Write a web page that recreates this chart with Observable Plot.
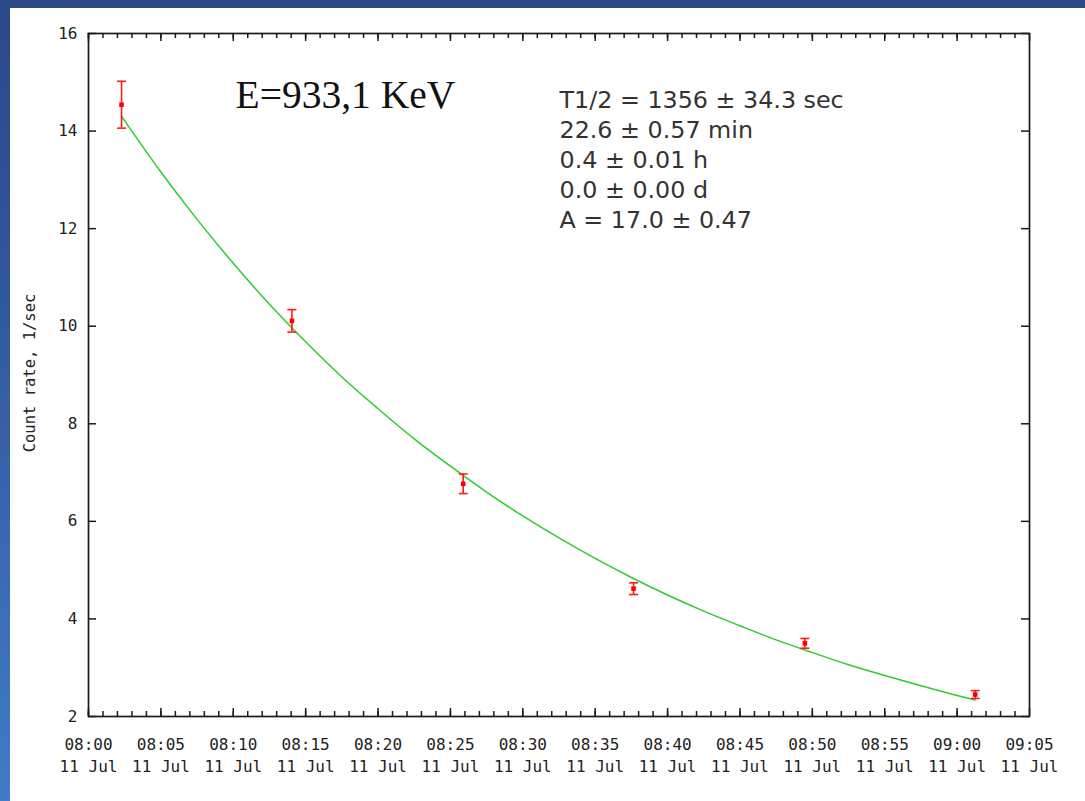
<!DOCTYPE html>
<html>
<head>
<meta charset="utf-8">
<script src="https://cdn.jsdelivr.net/npm/d3@7"></script>
<script src="https://cdn.jsdelivr.net/npm/@observablehq/plot@0.6"></script>
<style>
  html, body { margin: 0; padding: 0; }
  body { width: 1085px; height: 801px; position: relative; overflow: hidden;
         background: linear-gradient(180deg, #2b4889 0%, #33589f 40%, #3f7cc6 100%); }
  #panel { position: absolute; left: 10px; top: 8px; width: 1075px; height: 793px; background: #ffffff; }
  #chart { position: absolute; left: 0; top: 0; }
</style>
</head>
<body>
<div id="panel"></div>
<div id="chart"></div>
<script>
// ---- data ----
const day = "11 Jul";
const measTimes = ["08:02:17", "08:14:03", "08:25:53", "08:37:39", "08:49:29", "09:01:15"];
const measRate  = [14.54, 10.11, 6.77, 4.62, 3.50, 2.45];
const measErr   = [0.48, 0.23, 0.20, 0.12, 0.10, 0.08];

const fitTimes = ["08:02:17", "08:05", "08:07:30", "08:10", "08:12:30", "08:15", "08:17:30", "08:20",
                  "08:22:30", "08:25", "08:27:30", "08:30", "08:32:30", "08:35", "08:37:30", "08:40",
                  "08:42:30", "08:45", "08:47:30", "08:50", "08:52:30", "08:55", "08:57:30", "09:00", "09:01:15"];
const fitRate  = [14.30, 13.16, 12.19, 11.29, 10.45, 9.68, 8.96, 8.31,
                  7.69, 7.13, 6.60, 6.11, 5.66, 5.24, 4.85, 4.49,
                  4.16, 3.86, 3.57, 3.31, 3.06, 2.84, 2.63, 2.43, 2.34];

const xTickLabels = ["08:00","08:05","08:10","08:15","08:20","08:25","08:30","08:35",
                     "08:40","08:45","08:50","08:55","09:00","09:05"];
const yTickValues = [2, 4, 6, 8, 10, 12, 14, 16];

const titleText = "E=933,1 KeV";
const statsLines = ["T1/2 = 1356 \u00b1 34.3 sec", "22.6 \u00b1 0.57 min", "0.4 \u00b1 0.01 h",
                    "0.0 \u00b1 0.00 d", "A = 17.0 \u00b1 0.47"];
const yLabel = "Count rate, 1/sec";

// ---- helpers ----
const toDate = (s) => {
  const [h, m, sec] = s.split(":").map(Number);
  return new Date(Date.UTC(2011, 6, 11, h, m, sec || 0));
};
const meas = measTimes.map((t, i) => ({t: toDate(t), v: measRate[i], e: measErr[i]}));
const fit = fitTimes.map((t, i) => ({t: toDate(t), v: fitRate[i]}));
const majorTicks = xTickLabels.map(toDate);
const minorTicks = d3.utcMinute.range(majorTicks[0], majorTicks[majorTicks.length - 1]);
const xMin = majorTicks[0], xMax = majorTicks[majorTicks.length - 1];
const yMin = 2, yMax = 16;

const W = 1085, H = 801;
const mL = 88, mR = 56, mT = 33, mB = 85;
const innerW = W - mL - mR, innerH = H - mT - mB;
const mono = "'DejaVu Sans Mono', 'Liberation Mono', monospace";
const axisColor = "#1a1a1a";

// tick lengths (pixels) converted to data units
const yPerPx = (yMax - yMin) / innerH;
const msPerPx = (xMax - xMin) / innerW;
const minorLenY = 5 * yPerPx, majorLenY = 8 * yPerPx;
const majorLenX = 8 * msPerPx;

const capSymbol = {draw(ctx, size) { const w = Math.sqrt(size / Math.PI); ctx.moveTo(-w, 0); ctx.lineTo(w, 0); }};
const tickStyle = {stroke: axisColor, strokeWidth: 1.5};

const chart = Plot.plot({
  width: W, height: H,
  marginLeft: mL, marginRight: mR, marginTop: mT, marginBottom: mB,
  style: {background: "transparent", overflow: "visible"},
  x: {type: "utc", domain: [xMin, xMax], axis: null},
  y: {domain: [yMin, yMax], axis: null},
  marks: [
    // fit curve
    Plot.line(fit, {x: "t", y: "v", stroke: "#2ecc2e", strokeWidth: 1.5, curve: "monotone-x"}),
    // error bars
    Plot.ruleX(meas, {x: "t", y1: d => d.v - d.e, y2: d => d.v + d.e, stroke: "#ff1a1a", strokeWidth: 1.6}),
    Plot.dot(meas, {x: "t", y: d => d.v + d.e, symbol: capSymbol, r: 4.5, stroke: "#ff1a1a", strokeWidth: 1.6, fill: "none"}),
    Plot.dot(meas, {x: "t", y: d => d.v - d.e, symbol: capSymbol, r: 4.5, stroke: "#ff1a1a", strokeWidth: 1.6, fill: "none"}),
    Plot.dot(meas, {x: "t", y: "v", symbol: "square", r: 2.6, fill: "#ff0000", stroke: "none"}),
    // inward ticks, bottom and top
    Plot.ruleX(minorTicks, {x: d => d, y1: yMin, y2: yMin + minorLenY, ...tickStyle}),
    Plot.ruleX(minorTicks, {x: d => d, y1: yMax, y2: yMax - minorLenY, ...tickStyle}),
    Plot.ruleX(majorTicks, {x: d => d, y1: yMin, y2: yMin + majorLenY, ...tickStyle}),
    Plot.ruleX(majorTicks, {x: d => d, y1: yMax, y2: yMax - majorLenY, ...tickStyle}),
    // inward ticks, left and right
    Plot.ruleY(yTickValues, {y: d => d, x1: xMin, x2: new Date(+xMin + majorLenX), ...tickStyle}),
    Plot.ruleY(yTickValues, {y: d => d, x1: xMax, x2: new Date(+xMax - majorLenX), ...tickStyle}),
    Plot.frame({stroke: axisColor, strokeWidth: 1.7}),
    // x tick labels (two lines)
    Plot.text(majorTicks, {x: d => d, text: (d, i) => xTickLabels[i] + "\n" + day,
      frameAnchor: "bottom", lineAnchor: "top", dy: 17.5, lineHeight: 1.375,
      fontSize: 16, fontFamily: mono, fill: "#222"}),
    // y tick labels
    Plot.text(yTickValues, {y: d => d, text: d => String(d), frameAnchor: "left", textAnchor: "end",
      dx: -11, fontSize: 16, fontFamily: mono, fill: "#222"}),
    // y axis label
    Plot.text([yLabel], {text: d => d, frameAnchor: "left", textAnchor: "middle", rotate: -90, dx: -58, dy: -2,
      fontSize: 15.5, fontFamily: mono, fill: "#222"}),
    // title annotation
    Plot.text([titleText], {text: d => d, frameAnchor: "top-left", textAnchor: "start", lineAnchor: "top",
      dx: 147, dy: 46, fontSize: 39.5, fontFamily: "'Liberation Serif', 'Times New Roman', serif", fill: "#111"}),
    // fit statistics
    Plot.text([statsLines.join("\n")], {text: d => d, frameAnchor: "top-left", textAnchor: "start", lineAnchor: "top",
      dx: 471, dy: 53, lineHeight: 1.26, fontSize: 23.8, fontFamily: "'DejaVu Sans', Verdana, sans-serif", fill: "#333"})
  ]
});
document.getElementById("chart").appendChild(chart);
</script>
</body>
</html>
